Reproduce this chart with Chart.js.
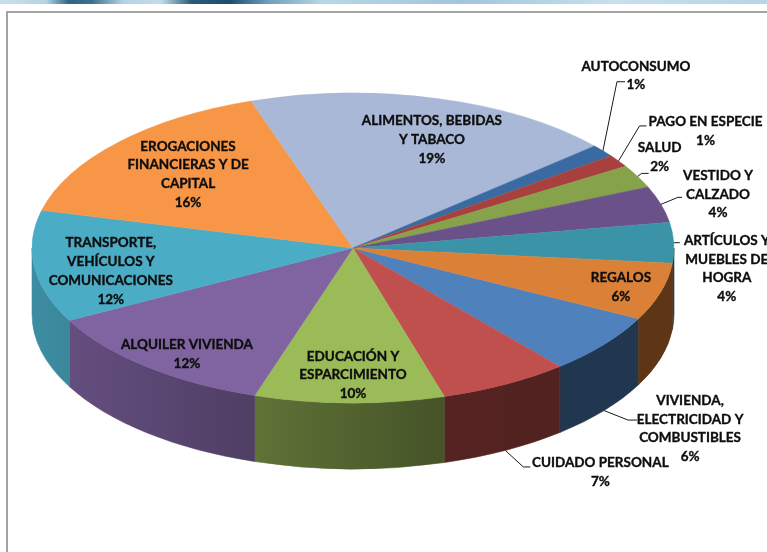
<!DOCTYPE html>
<html><head><meta charset="utf-8">
<script src="https://cdn.jsdelivr.net/npm/chart.js@4"></script>
<style>
html,body{margin:0;padding:0;background:#fff;width:767px;height:552px;overflow:hidden}
#band{position:absolute;left:0;top:0;width:767px;height:4px;background:linear-gradient(90deg,#c9e0ec 0%,#b5d3e3 6%,#2f6483 9%,#3d7090 12%,#b3d3e4 16%,#c2dceb 21%,#2a5a77 25%,#1d4e6b 30%,#6f9fba 35%,#b9d7e7 42%,#9fc6dc 60%,#c6e0ee 80%,#b7d5e6 100%)}
#frame{position:absolute;left:6px;top:11px;width:820px;height:620px;border-left:2px solid #a3a3a3;border-top:2px solid #a3a3a3;box-sizing:border-box}
#c{position:absolute;left:0;top:0}
</style></head><body>
<div id="band"></div><div id="frame"></div>
<canvas id="c" width="767" height="552"></canvas>
<script>
// ---- data ----
const categories = [
  'VIVIENDA,\nELECTRICIDAD Y\nCOMBUSTIBLES',
  'CUIDADO PERSONAL',
  'EDUCACIÓN Y\nESPARCIMIENTO',
  'ALQUILER VIVIENDA',
  'TRANSPORTE,\nVEHÍCULOS Y\nCOMUNICACIONES',
  'EROGACIONES\nFINANCIERAS Y DE\nCAPITAL',
  'ALIMENTOS, BEBIDAS\nY TABACO',
  'AUTOCONSUMO',
  'PAGO EN ESPECIE',
  'SALUD',
  'VESTIDO Y\nCALZADO',
  'ARTÍCULOS Y\nMUEBLES DE\nHOGRA',
  'REGALOS'
];
const shares = [6.3, 6.55, 9.55, 12.3, 11.65, 15.95, 18.7, 1.3, 1.3, 2.4, 3.8, 4.2, 6.0];
const sliceColors = ['#4F81BD','#C0504D','#9BBB59','#8064A2','#4BACC6','#F79646','#A9B8D6','#3A6AA2','#A8413E','#86A24A','#6B5189','#3A93A6','#DA8037'];

// ---- layout / styling (not data) ----
const geo = {cx:353, cy:248, rx:321, ry:155, depth:66};
const labelLayout = [
  {out:true, low:true, t:[86,18], e:[24,9.5], h:[33,9.5]},
  {out:true, low:true, t:[95,21.5], e:[18,16.5], h:[25,16.5]},
  {f:0.82, dx:3, dy:0},
  {f:0.81, dx:1, dy:10},
  {f:0.76, dx:0, dy:9},
  {f:0.70, dx:0, dy:0},
  {f:0.75, dx:16, dy:4},
  {out:true, t:[33,-75], e:[14,-69], h:[22,-69]},
  {out:true, t:[87,-30], e:[21,-35], h:[28,-35]},
  {out:true, t:[22,-19], e:[4,-3], h:[11,-3]},
  {out:true, t:[57,-10], e:[17,-7], h:[21,-7]},
  {out:true, t:[53,26], e:[1,0], h:[6,0]},
  {f:0.87, dx:0, dy:1}
];
const FONT = 'bold 13.5px Lato';
const LINE_H = 18.7;

function hexRgb(h){h=h.replace('#','');return [0,2,4].map(i=>parseInt(h.substr(i,2),16));}
function shade(h,f){const c=hexRgb(h);return 'rgb('+c.map(v=>Math.round(v*f)).join(',')+')';}
function wallFactor(x){const t=Math.min(1,Math.max(0,(x-30)/440));return 0.82-0.40*t;}

const threeD = {
  id:'threeD',
  beforeDatasetsDraw(chart){
    const ctx = chart.ctx, meta = chart.getDatasetMeta(0);
    const {cx,cy,rx,ry,depth} = geo;
    meta.data.forEach((arc,i)=>{
      const s = arc.startAngle, e = arc.endAngle;
      for(let k=-1;k<=2;k++){
        const a1 = Math.max(s, 2*Math.PI*k), a2 = Math.min(e, 2*Math.PI*k+Math.PI);
        if(a2<=a1) continue;
        const xa = cx+rx*Math.cos(a1), xb = cx+rx*Math.cos(a2);
        ctx.beginPath();
        ctx.ellipse(cx,cy,rx,ry,0,a1,a2);
        ctx.lineTo(xb, cy+depth+ry*Math.sin(a2));
        ctx.ellipse(cx,cy+depth,rx,ry,0,a2,a1,true);
        ctx.closePath();
        const L = Math.min(xa,xb), R = Math.max(xa,xb)+0.01;
        const g = ctx.createLinearGradient(L,0,R,0);
        g.addColorStop(0, shade(sliceColors[i], wallFactor(L)));
        g.addColorStop(1, shade(sliceColors[i], wallFactor(R)));
        ctx.fillStyle = g; ctx.strokeStyle = g; ctx.lineWidth = 0.6;
        ctx.fill(); ctx.stroke();
      }
    });
    const a0 = meta.data[0];
    ctx.save();
    ctx.translate(cx,cy);
    ctx.scale(rx/a0.outerRadius, ry/a0.outerRadius);
    ctx.translate(-a0.x,-a0.y);
  },
  afterDatasetsDraw(chart){
    const ctx = chart.ctx, meta = chart.getDatasetMeta(0);
    ctx.restore();
    const {cx,cy,rx,ry,depth} = geo;
    const total = shares.reduce((a,b)=>a+b,0);
    ctx.save();
    ctx.font = FONT; ctx.textAlign='center'; ctx.textBaseline='middle';
    meta.data.forEach((arc,i)=>{
      const m = (arc.startAngle+arc.endAngle)/2;
      const lay = labelLayout[i];
      const lines = categories[i].split('\n').concat(Math.round(shares[i]/total*100)+'%');
      let tx, ty;
      if(lay.out){
        const ax = cx+rx*Math.cos(m), ay = cy+ry*Math.sin(m)+(lay.low?depth:0);
        tx = ax+lay.t[0]; ty = ay+lay.t[1];
        ctx.strokeStyle = '#1a1a1a'; ctx.lineWidth = 1;
        ctx.beginPath();
        ctx.moveTo(ax,ay);
        ctx.lineTo(ax+lay.e[0], ay+lay.e[1]);
        ctx.lineTo(ax+lay.h[0], ay+lay.h[1]);
        ctx.stroke();
      } else {
        tx = cx+lay.f*rx*Math.cos(m)+lay.dx; ty = cy+lay.f*ry*Math.sin(m)+lay.dy;
      }
      const y0 = ty-(lines.length-1)*LINE_H/2;
      ctx.fillStyle = '#0e0e0e'; ctx.strokeStyle = '#0e0e0e'; ctx.lineWidth = 0.35;
      lines.forEach((ln,j)=>{ctx.fillText(ln, tx, y0+j*LINE_H); ctx.strokeText(ln, tx, y0+j*LINE_H);});
    });
    ctx.restore();
  }
};

new Chart(document.getElementById('c'), {
  type:'pie',
  data:{labels:categories, datasets:[{data:shares, backgroundColor:sliceColors, borderColor:sliceColors, borderWidth:0.5, clip:false}]},
  options:{
    responsive:false, animation:false, events:[],
    rotation:117.2,
    layout:{padding:0},
    plugins:{legend:{display:false}, tooltip:{enabled:false}}
  },
  plugins:[threeD]
});
</script>
</body></html>
